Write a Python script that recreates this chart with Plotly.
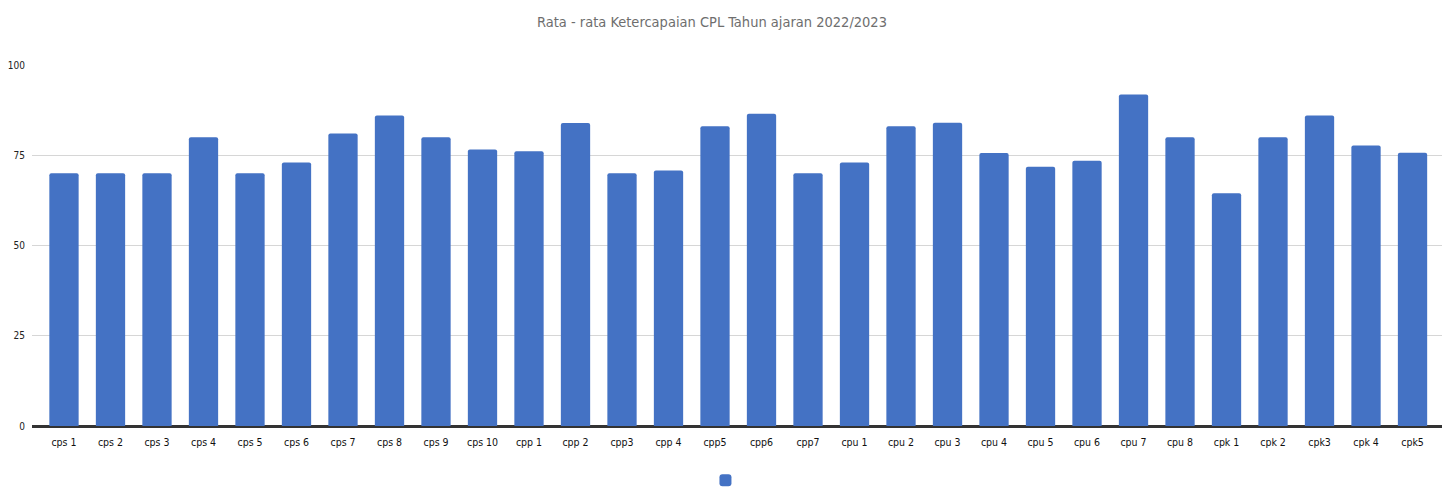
import plotly.graph_objects as go

categories = ["cps 1", "cps 2", "cps 3", "cps 4", "cps 5", "cps 6", "cps 7", "cps 8", "cps 9", "cps 10",
              "cpp 1", "cpp 2", "cpp3", "cpp 4", "cpp5", "cpp6", "cpp7",
              "cpu 1", "cpu 2", "cpu 3", "cpu 4", "cpu 5", "cpu 6", "cpu 7", "cpu 8",
              "cpk 1", "cpk 2", "cpk3", "cpk 4", "cpk5"]
values = [70, 70, 70, 80, 70, 73, 81, 86, 80, 76.6,
          76.1, 83.9, 70, 70.8, 83, 86.5, 70,
          73, 83, 84, 75.6, 71.8, 73.5, 91.8, 80,
          64.5, 80, 86, 77.7, 75.7]
y_ticks = [0, 25, 50, 75, 100]

FONT = "Liberation Sans Narrow, DejaVu Sans Condensed, Roboto, sans-serif"

fig = go.Figure(go.Bar(
    x=categories, y=values, name=" ",
    marker=dict(color="#4472C4", cornerradius=2, line=dict(width=0)),
    showlegend=True,
))

fig.update_layout(
    width=1450, height=492,
    margin=dict(l=24, r=16, t=57, b=74, autoexpand=False),
    paper_bgcolor="white", plot_bgcolor="white",
    title=dict(text="Rata - rata Ketercapaian CPL Tahun ajaran 2022/2023",
               x=0.4855, xanchor="center", y=0.972, yanchor="middle",
               font=dict(family=FONT, size=14.5, color="#6e6e6e")),
    bargap=0.37,
    font=dict(family=FONT, color="#222222"),
    xaxis=dict(tickfont=dict(size=10.5, color="#111111"), showgrid=False,
               showline=True, linecolor="#333333", linewidth=1.5, ticks="",
               ticklabelstandoff=6, range=[-0.688, 29.634]),
    yaxis=dict(range=[0, 100], tickvals=y_ticks, showgrid=True, gridcolor="#d6d6d6",
               gridwidth=1, tickfont=dict(size=10, color="#222222"),
               zeroline=True, zerolinecolor="#333333", zerolinewidth=1.5,
               ticklabelstandoff=6),
    legend=dict(orientation="h", x=0.495, xanchor="center", y=-0.11, yanchor="top",
                font=dict(size=12), itemwidth=30),
)

fig.write_html("out.html")
